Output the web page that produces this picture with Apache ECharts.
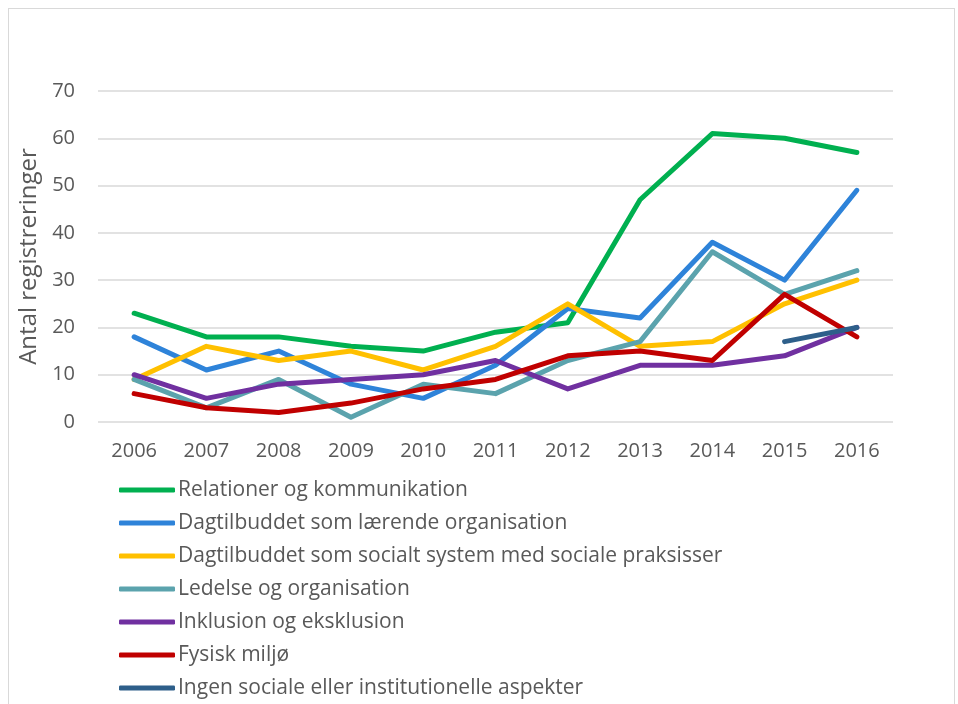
<!DOCTYPE html>
<html>
<head>
<meta charset="utf-8">
<script src="https://cdn.jsdelivr.net/npm/echarts@6/dist/echarts.min.js"></script>
<style>
  html, body { margin: 0; padding: 0; background: #fff; overflow: hidden; }
  #frame { position: absolute; left: 8px; top: 8px; width: 947px; height: 710px; border: 1.5px solid #d9d9d9; box-sizing: border-box; }
  #main { position: absolute; left: 0; top: 0; width: 958px; height: 704px; }
</style>
</head>
<body>
<div id="frame"></div>
<div id="main"></div>
<script>
var years = ['2006', '2007', '2008', '2009', '2010', '2011', '2012', '2013', '2014', '2015', '2016'];

var relationer = [23, 18, 18, 16, 15, 19, 21, 47, 61, 60, 57];
var laerende = [18, 11, 15, 8, 5, 12, 24, 22, 38, 30, 49];
var socialtSystem = [9, 16, 13, 15, 11, 16, 25, 16, 17, 25, 30];
var ledelse = [9, 3, 9, 1, 8, 6, 13, 17, 36, 27, 32];
var inklusion = [10, 5, 8, 9, 10, 13, 7, 12, 12, 14, 20];
var fysisk = [6, 3, 2, 4, 7, 9, 14, 15, 13, 27, 18];
var ingen = [null, null, null, null, null, null, null, null, null, 17, 20];

var names = [
	'Relationer og kommunikation',
	'Dagtilbuddet som lærende organisation',
	'Dagtilbuddet som socialt system med sociale praksisser',
	'Ledelse og organisation',
	'Inklusion og eksklusion',
	'Fysisk miljø',
	'Ingen sociale eller institutionelle aspekter'
];
var colors = ['#00b050', '#2e83d9', '#ffc000', '#5ba3ad', '#7030a0', '#c00000', '#2e5f8a'];

function display() {
	var myChart = echarts.init(document.getElementById('main'));
	var values = [relationer, laerende, socialtSystem, ledelse, inklusion, fysisk, ingen];
	var font = '"Open Sans", "Noto Sans", sans-serif';

	var series = [];
	for (var i = 0; i < names.length; i++) {
		series.push({
			name: names[i],
			type: 'line',
			data: values[i],
			symbol: 'none',
			connectNulls: false,
			lineStyle: { width: 5, color: colors[i], cap: 'round', join: 'round' },
			itemStyle: { color: colors[i] }
		});
	}

	var option = {
		animation: false,
		backgroundColor: 'transparent',
		grid: { left: 98, right: 65, top: 91, bottom: 282 },
		legend: {
			orient: 'vertical',
			left: 119,
			top: 478,
			padding: 0,
			height: 226,
			icon: 'roundRect',
			itemWidth: 56,
			itemHeight: 5,
			itemGap: 9,
			data: names,
			textStyle: { fontFamily: font, fontSize: 21, color: '#595959', lineHeight: 24, padding: [0, 0, 0, -2] }
		},
		xAxis: {
			type: 'category',
			data: years,
			boundaryGap: true,
			axisLine: { show: false },
			axisTick: { show: false },
			axisLabel: { fontFamily: font, fontSize: 20, color: '#595959', margin: 19 }
		},
		yAxis: {
			type: 'value',
			min: 0,
			max: 70,
			interval: 10,
			name: 'Antal registreringer',
			nameLocation: 'middle',
			nameGap: 52,
			nameTextStyle: { fontFamily: font, fontSize: 24, color: '#595959' },
			axisLabel: { fontFamily: font, fontSize: 20, color: '#595959', margin: 23 },
			splitLine: { lineStyle: { color: '#d9d9d9', width: 1.5 } }
		},
		series: series
	};

	myChart.setOption(option);
}

display();
</script>
</body>
</html>
